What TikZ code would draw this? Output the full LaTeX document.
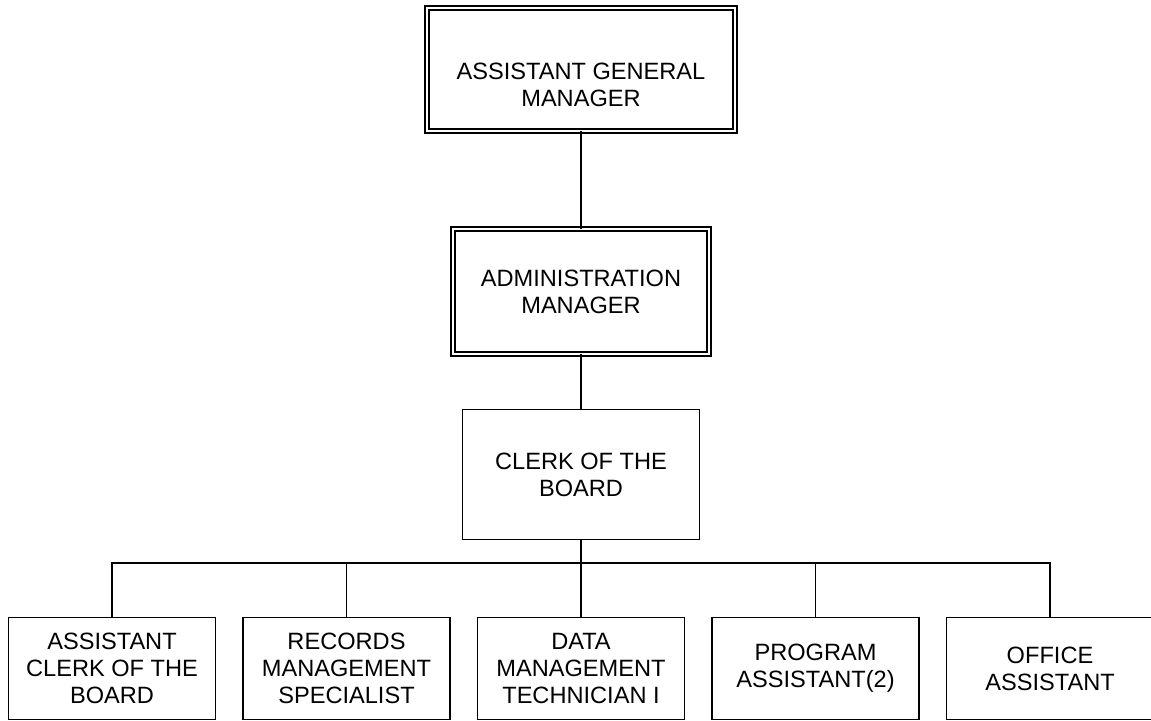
\documentclass[tikz,border=0pt]{standalone}
\usepackage{fontspec}
\setmainfont{Liberation Sans}
\usetikzlibrary{positioning}

\begin{document}
\begin{tikzpicture}[x=0.5pt,y=-0.5pt,
    orgfont/.style={font=\fontsize{11.8}{13.5}\selectfont},
    box/.style={draw,line width=0.8pt,outer sep=0pt,align=center,orgfont},
    dbox/.style={box,double,double distance=1.4pt},
    post/.style={box,minimum width=103.5pt,minimum height=51pt,inner sep=1pt},
    conn/.style={line width=0.8pt}]
        \useasboundingbox (0,0) rectangle (1151,721);

        \node[dbox,minimum width=154pt,minimum height=61.5pt,
          label={[orgfont,align=center,yshift=-7.5pt]center:ASSISTANT GENERAL\\MANAGER}] (agm) at (581,69.5) {};
        \node[dbox,minimum width=128pt,minimum height=62.5pt,below=49pt of agm] (am) {ADMINISTRATION\\MANAGER};
        \node[box,minimum width=118.5pt,minimum height=65pt,below=27.75pt of am] (cob) {CLERK OF THE\\BOARD};

        \draw[conn] (agm) -- (am);
        \draw[conn] (am) -- (cob);

        % staff row
        \node[post,below=39pt of cob] (dmt) {DATA\\MANAGEMENT\\TECHNICIAN I};
        \node[post,left=13.75pt of dmt] (rms) {RECORDS\\MANAGEMENT\\SPECIALIST};
        \node[post,left=13.75pt of rms] (acb) {ASSISTANT\\CLERK OF THE\\BOARD};
        \node[post,right=13.75pt of dmt] (pa) {PROGRAM\\ASSISTANT(2)};
        \node[post,right=13.75pt of pa] (oa) {OFFICE\\ASSISTANT};

        \draw[conn] (cob.south) -- ++(0,23.5) coordinate (bus);
        \draw[conn] (acb) |- (bus) -| (oa);
        \foreach \n in {rms,dmt,pa}
            \draw[conn] (\n) -- (\n |- bus);
\end{tikzpicture}
\end{document}
